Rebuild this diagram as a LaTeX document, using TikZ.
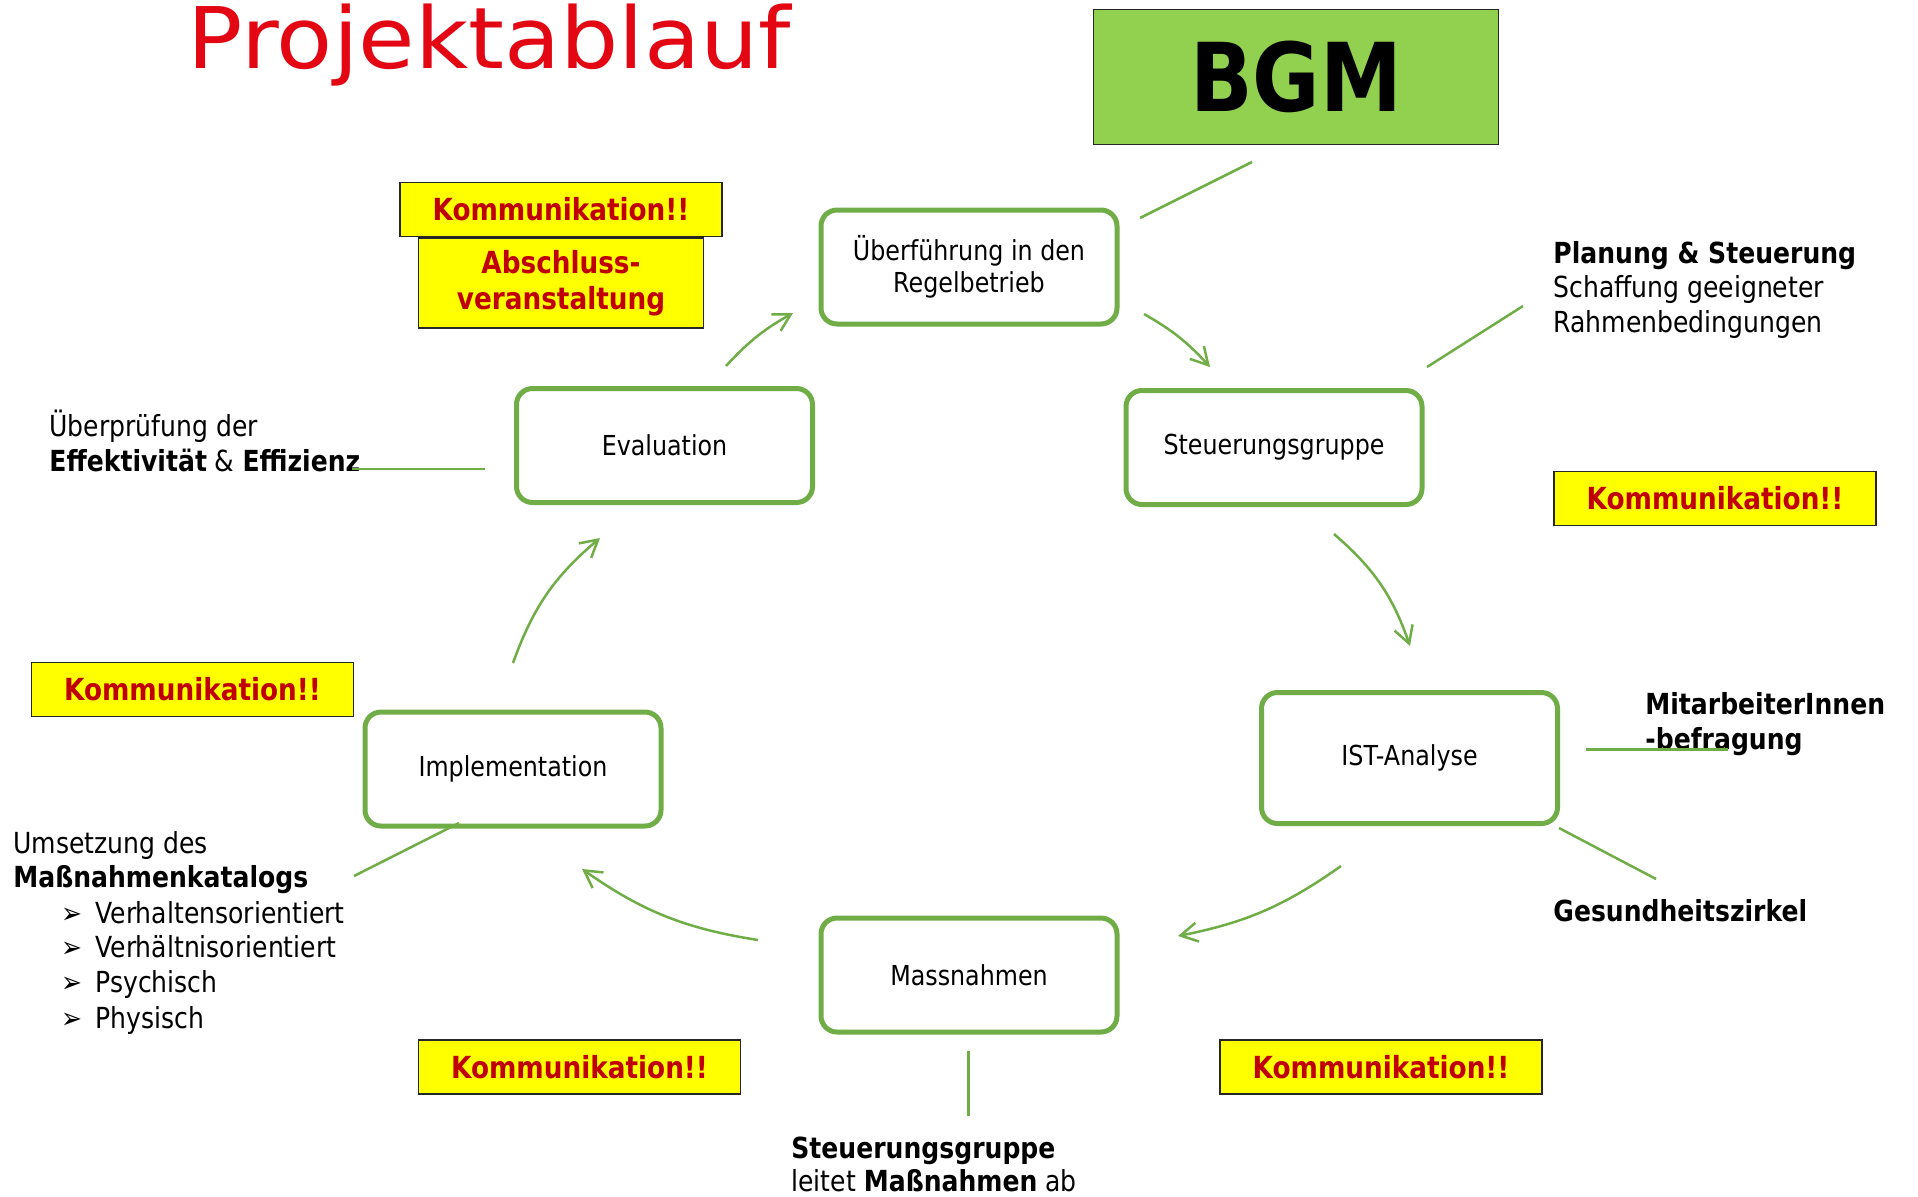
\documentclass[tikz,border=0pt]{standalone}
\usepackage{fontspec}
\setmainfont[FakeStretch=0.865]{DejaVu Sans}
\newfontfamily\titlefont{DejaVu Sans}
\usetikzlibrary{arrows.meta}
\definecolor{grn}{HTML}{70AD47}
\definecolor{bgmgreen}{HTML}{92D050}
\definecolor{yel}{HTML}{FFFF00}
\definecolor{kred}{HTML}{C00000}
\definecolor{titlered}{HTML}{E30613}
\definecolor{kbord}{HTML}{262626}
\newcommand\boxfont{\fontsize{13.75pt}{16pt}\selectfont}
\newcommand\notefont{\fontsize{14.5pt}{17.5pt}\selectfont}
\newcommand\kfont{\bfseries\fontsize{15.2pt}{17.5pt}\selectfont}
\tikzset{
  stage/.style={draw=grn, line width=2.5pt, rounded corners=8pt, fill=white,
    minimum width=148pt, minimum height=57pt, font=\boxfont, align=center, inner sep=0pt},
  komm/.style={draw=kbord, line width=0.75pt, fill=yel, text=kred, font=\kfont,
    minimum width=161pt, minimum height=27pt, inner sep=0pt, align=center},
  link/.style={draw=grn, line width=1.25pt},
  flow/.style={link, -{Straight Barb[length=8.5pt,width=9.5pt,line width=1.25pt]}},
  note/.style={anchor=base west, inner sep=0pt, font=\notefont},
}
\begin{document}
\begin{tikzpicture}[x=0.5pt,y=-0.5pt]
\useasboundingbox (0,0) rectangle (1918,1196);

% title
\node[anchor=base west, inner sep=0pt, text=titlered, font=\titlefont\fontsize{42.5pt}{44pt}\selectfont] (title) at (187,68) {\scalebox{1.08}[1]{Projektablauf}};

% BGM
\node[draw=kbord, line width=0.75pt, fill=bgmgreen, minimum width=202.5pt, minimum height=67.5pt, inner sep=0pt,
      font=\bfseries\fontsize{47.5pt}{50pt}\selectfont] (bgm) at (1296,77) {BGM};

% stages
\node[stage] (ueb) at (969,267) {Überführung in den\\Regelbetrieb};
\node[stage] (steu) at (1274,447.5) {Steuerungsgruppe};
\node[stage, minimum height=65.5pt] (ist) at (1409.5,758) {IST-Analyse};
\node[stage] (mass) at (969,975) {Massnahmen};
\node[stage] (impl) at (513,769) {Implementation};
\node[stage] (eval) at (664.5,445.5) {Evaluation};

% Kommunikation boxes
\node[komm] (k1) at (561,209.5) {Kommunikation!!};
\node[komm, minimum width=142.5pt, minimum height=45pt] (absch) at (561,283) {Abschluss-\\[0.6pt]veranstaltung};
\node[komm] (k2) at (1715,498.5) {Kommunikation!!};
\node[komm] (k3) at (192.5,689.5) {Kommunikation!!};
\node[komm] (k4) at (579.5,1067) {Kommunikation!!};
\node[komm] (k5) at (1381,1067) {Kommunikation!!};

% annotations
\node[note] (plan1) at (1553,263) {\textbf{Planung \& Steuerung}};
\node[note] (plan2) at (1553,297) {Schaffung geeigneter};
\node[note] (plan3) at (1553,332) {Rahmenbedingungen};

\node[note] (pruef1) at (49,436) {Überprüfung der};
\node[note] (pruef2) at (49,471) {\textbf{Effektivität} \& \textbf{Effizienz}};

\node[note] (mit1) at (1645,714) {\textbf{MitarbeiterInnen}};
\node[note] (mit2) at (1645,749) {\textbf{-befragung}};
\node[note] (ges) at (1553,921) {\textbf{Gesundheitszirkel}};

\node[note] (ums1) at (13,853) {Umsetzung des};
\node[note] (ums2) at (13,887) {\textbf{Maßnahmenkatalogs}};
\node[note] (b1) at (61,923) {➢};
\node[note] (u1) at (95,923) {Verhaltensorientiert};
\node[note] (b2) at (61,957) {➢};
\node[note] (u2) at (95,957) {Verhältnisorientiert};
\node[note] (b3) at (61,992) {➢};
\node[note] (u3) at (95,992) {Psychisch};
\node[note] (b4) at (61,1028) {➢};
\node[note] (u4) at (95,1028) {Physisch};

\node[note] (sg1) at (791,1158) {\textbf{Steuerungsgruppe}};
\node[note] (sg2) at (791,1191) {leitet \textbf{Maßnahmen} ab};

% connector end points
\coordinate (bgm-o) at (1252,162);   \coordinate (ueb-i) at (1140,218);
\coordinate (ueb-o) at (1144,314);   \coordinate (steu-i) at (1210,367);
\coordinate (steu-o) at (1334,534);  \coordinate (ist-i) at (1410,646);
\coordinate (ist-o) at (1341,866);   \coordinate (mass-i) at (1178,936);
\coordinate (mass-o) at (758,940);   \coordinate (impl-i) at (582,869);
\coordinate (impl-o) at (513,663);   \coordinate (eval-i) at (600,538);
\coordinate (eval-o) at (726,366);   \coordinate (ueb-in) at (793,313);
\coordinate (steu-n) at (1427,367);  \coordinate (plan-n) at (1523,306);
\coordinate (eval-n) at (485,469);   \coordinate (pruef-n) at (352,469);
\coordinate (ist-n) at (1586,749.5); \coordinate (mit-n) at (1728,749.5);
\coordinate (ist-s) at (1559,828);   \coordinate (ges-n) at (1656,879);
\coordinate (impl-n) at (459,823);   \coordinate (ums-n) at (354,876);
\coordinate (mass-n) at (968.5,1051); \coordinate (sg-n) at (968.5,1116);

% flow arrows
\draw[flow] (ueb-o) to[bend left=9] (steu-i);
\draw[flow] (steu-o) to[bend left=15] (ist-i);
\draw[flow] (ist-o) to[bend left=12] (mass-i);
\draw[flow] (mass-o) to[bend left=13] (impl-i);
\draw[flow] (impl-o) to[bend left=15] (eval-i);
\draw[flow] (eval-o) to[bend left=9] (ueb-in);

% plain links
\draw[link] (bgm-o) -- (ueb-i);
\draw[link] (steu-n) -- (plan-n);
\draw[link] (eval-n) -- (pruef-n);
\draw[link] (ist-n) -- (mit-n);
\draw[link] (ist-s) -- (ges-n);
\draw[link] (impl-n) -- (ums-n);
\draw[link] (mass-n) -- (sg-n);
\end{tikzpicture}
\end{document}
